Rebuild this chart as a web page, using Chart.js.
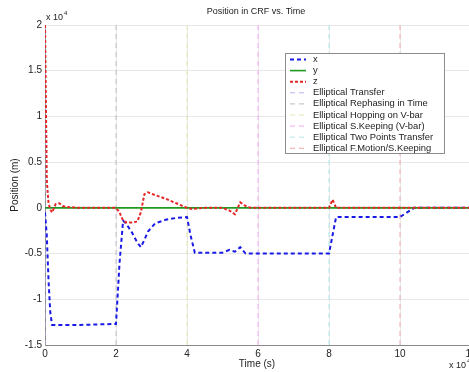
<!DOCTYPE html>
<html>
<head>
<meta charset="utf-8">
<script src="https://cdn.jsdelivr.net/npm/chart.js@4.4.1/dist/chart.umd.min.js"></script>
<style>
  html, body { margin: 0; padding: 0; background: #fff; overflow: hidden; }
  #wrap { width: 480px; height: 372px; }
</style>
</head>
<body>
<div id="wrap"><canvas id="posChart" width="480" height="372"></canvas></div>
<script>
// Position in CRF vs. Time  (both axes in units of 10^4)

const time = [0, 0.05, 0.1, 0.15, 0.2, 0.3, 0.4, 0.5, 0.6, 1.0, 2.0, 2.1, 2.2, 2.3, 2.45, 2.6, 2.7, 2.8, 2.9, 3.1, 3.4, 3.7,
    4.0, 4.1, 4.22, 4.5, 5.0, 5.2, 5.35, 5.5, 5.65, 5.8, 6.5, 7.5, 8.0, 8.1, 8.2, 9.0, 10.0, 10.2, 10.4, 10.6, 12.0];

const posX = [-0.05, -0.3, -0.8, -1.15, -1.28, -1.28, -1.28, -1.28, -1.28, -1.28, -1.27, -0.6, -0.14, -0.18, -0.27, -0.38, -0.43, -0.35, -0.26, -0.17, -0.13, -0.11,
    -0.1, -0.3, -0.49, -0.49, -0.49, -0.46, -0.48, -0.43, -0.5, -0.5, -0.5, -0.5, -0.5, -0.3, -0.1, -0.1, -0.1, -0.05, 0, 0, 0];

const posY = [0, 0, 0, 0, 0, 0, 0, 0, 0, 0, 0, 0, 0, 0, 0, 0, 0, 0, 0, 0, 0, 0,
    0, 0, 0, 0, 0, 0, 0, 0, 0, 0, 0, 0, 0, 0, 0, 0, 0, 0, 0, 0, 0];

const posZ = [2.0, 0.3, 0.05, -0.02, -0.05, 0.04, 0.05, 0.02, 0.01, 0, 0, -0.05, -0.14, -0.16, -0.16, -0.15, -0.05, 0.15, 0.17, 0.14, 0.1, 0.05,
    0, -0.01, -0.01, 0, 0, -0.03, -0.07, 0.06, 0.02, 0, 0, 0, 0, 0.09, 0, 0, 0, 0, 0, 0, 0];

// phase start times and their labels
const phaseTimes = [0, 2, 4, 6, 8, 10];
const phaseNames = ["Elliptical Transfer", "Elliptical Rephasing in Time", "Elliptical Hopping on V-bar",
    "Elliptical S.Keeping (V-bar)", "Elliptical Two Points Transfer", "Elliptical F.Motion/S.Keeping"];
const phaseColors = ["#b4b4f4", "#bcbcc8", "#e6e6b0", "#f4a8f4", "#b0e6e6", "#f4a8a8"];

const xTicks = [0, 2, 4, 6, 8, 10, 12];
const yTicks = [-1.5, -1, -0.5, 0, 0.5, 1, 1.5, 2];

const FONT = "'Liberation Sans', Arial, sans-serif";
const yMin = yTicks[0], yMax = yTicks[yTicks.length - 1];

function pts(ys) {
    return time.map((t, i) => ({ x: t, y: ys[i] }));
}

const datasets = [
    { label: "x", data: pts(posX), borderColor: "#1a1ae6", borderWidth: 2, borderDash: [4, 3], order: 3 },
    { label: "y", data: pts(posY), borderColor: "#1f9a1f", borderWidth: 1.6, order: 2 },
    { label: "z", data: pts(posZ), borderColor: "#e62626", borderWidth: 2, borderDash: [3, 2], order: 1 },
];
phaseTimes.forEach((t, i) => {
    datasets.push({
        label: phaseNames[i],
        data: [{ x: t, y: yMin }, { x: t, y: yMax }],
        borderColor: phaseColors[i],
        borderWidth: 1,
        borderDash: [5, 4],
        order: 4,
    });
});

// titles, exponent labels and the boxed legend
const decorations = {
    id: "decorations",
    afterDraw(chart) {
        const ctx = chart.ctx;
        ctx.save();
        ctx.fillStyle = "#222";
        ctx.textBaseline = "middle";

        ctx.font = "9px " + FONT;
        ctx.textAlign = "center";
        ctx.fillText("Position in CRF vs. Time", 256, 12);

        ctx.font = "10px " + FONT;
        ctx.fillText("Time (s)", 257, 364);

        ctx.save();
        ctx.translate(15, 185);
        ctx.rotate(-Math.PI / 2);
        ctx.fillText("Position (m)", 0, 0);
        ctx.restore();

        // exponents
        ctx.textAlign = "left";
        ctx.font = "9px " + FONT;
        ctx.fillText("x 10", 46, 18);
        ctx.fillText("x 10", 449, 366);
        ctx.font = "6px " + FONT;
        ctx.fillText("4", 64, 13);
        ctx.fillText("4", 467, 361);

        // legend
        const lx = 285, ly = 53, lw = 159, lh = 100, row = 11.1;
        ctx.fillStyle = "#fff";
        ctx.fillRect(lx, ly, lw, lh);
        ctx.strokeStyle = "#8c8c8c";
        ctx.lineWidth = 1;
        ctx.strokeRect(lx + 0.5, ly + 0.5, lw, lh);
        chart.data.datasets.forEach((ds, i) => {
            const cy = ly + 6.5 + i * row;
            ctx.save();
            ctx.strokeStyle = ds.borderColor;
            ctx.lineWidth = ds.borderWidth;
            ctx.setLineDash(ds.borderDash || []);
            ctx.beginPath();
            ctx.moveTo(290, cy);
            ctx.lineTo(306, cy);
            ctx.stroke();
            ctx.restore();
            ctx.fillStyle = "#222";
            ctx.font = "9.4px " + FONT;
            ctx.fillText(ds.label, 313, cy);
        });
        ctx.restore();
    },
};

new Chart(document.getElementById("posChart"), {
    type: "line",
    data: { datasets: datasets },
    options: {
        responsive: false,
        animation: false,
        layout: { padding: { left: 0, right: 9, top: 25, bottom: 0 } },
        elements: { point: { radius: 0 }, line: { tension: 0 } },
        plugins: { legend: { display: false }, tooltip: { enabled: false } },
        scales: {
            x: {
                type: "linear",
                min: xTicks[0],
                max: xTicks[xTicks.length - 1],
                afterBuildTicks: (s) => { s.ticks = xTicks.map((v) => ({ value: v })); },
                afterFit: (s) => { s.height = 27; },
                grid: { color: "#e8e8e8", drawTicks: false },
                border: { color: "#8a8a8a" },
                ticks: { padding: 3, color: "#222", font: { family: FONT, size: 10 }, maxRotation: 0, callback: (v) => String(v) },
            },
            y: {
                min: yMin,
                max: yMax,
                afterBuildTicks: (s) => { s.ticks = yTicks.map((v) => ({ value: v })); },
                afterFit: (s) => { s.width = 45; },
                grid: { color: "#e8e8e8", drawTicks: false },
                border: { color: "#8a8a8a" },
                ticks: { padding: 3, color: "#222", font: { family: FONT, size: 10 }, callback: (v) => String(v) },
            },
        },
    },
    plugins: [decorations],
});
</script>
</body>
</html>
